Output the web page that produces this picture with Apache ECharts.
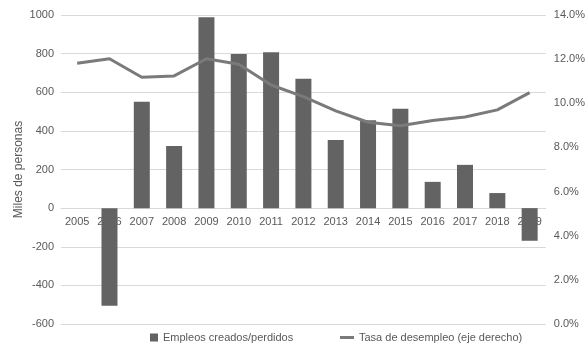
<!DOCTYPE html>
<html>
<head>
<meta charset="utf-8">
<script src="https://cdn.jsdelivr.net/npm/echarts@6/dist/echarts.min.js"></script>
<style>
  html, body { margin: 0; padding: 0; background: #fff; }
  #chart { width: 588px; height: 349px; }
</style>
</head>
<body>
<div id="chart"></div>
<script>
// datos
var years = ['2005','2006','2007','2008','2009','2010','2011','2012','2013','2014','2015','2016','2017','2018','2019'];
var empleos = [null, -505, 551, 322, 988, 798, 807, 670, 353, 455, 515, 136, 224, 78, -169];
var tasa = [11.81, 12.02, 11.18, 11.24, 12.02, 11.77, 10.83, 10.30, 9.66, 9.14, 8.98, 9.22, 9.38, 9.70, 10.48];

var txt = '#595959';
var font = 'Liberation Sans';
var gridTop = 15, gridBottom = 25, H = 349;
var yMin = -600, yMax = 1000;
// el eje de categorias va sobre el cero del eje izquierdo
var zeroOffset = -(H - gridTop - gridBottom) * (0 - yMin) / (yMax - yMin);

var chart = echarts.init(document.getElementById('chart'));
chart.setOption({
  animation: false,
  textStyle: { fontFamily: font },
  grid: { left: 61, right: 42, top: gridTop, bottom: gridBottom },
  legend: [
    {
      left: 145, bottom: 1, itemWidth: 8, itemHeight: 8, icon: 'rect',
      data: ['Empleos creados/perdidos'],
      textStyle: { color: txt, fontSize: 11, fontFamily: font }
    },
    {
      left: 335, bottom: 1, itemWidth: 14, itemHeight: 3, icon: 'rect',
      data: ['Tasa de desempleo (eje derecho)'],
      textStyle: { color: txt, fontSize: 11, fontFamily: font }
    }
  ],
  xAxis: {
    type: 'category',
    data: years,
    position: 'bottom',
    offset: zeroOffset,
    axisLine: { onZero: false, lineStyle: { color: '#d9d9d9' } },
    axisTick: { show: false },
    axisLabel: { color: txt, fontSize: 11, margin: 8 }
  },
  yAxis: [
    {
      type: 'value', min: yMin, max: yMax, interval: 200,
      name: 'Miles de personas', nameLocation: 'middle', nameGap: 36,
      nameMoveOverlap: false,
      nameTextStyle: { color: txt, fontSize: 12 },
      axisLine: { show: false }, axisTick: { show: false },
      axisLabel: { color: txt, fontSize: 11, margin: 7, formatter: function (v) { return String(v); } },
      splitLine: { lineStyle: { color: '#d9d9d9' } }
    },
    {
      type: 'value', min: 0, max: 14, interval: 2,
      axisLine: { show: false }, axisTick: { show: false },
      axisLabel: { color: txt, fontSize: 11, margin: 8, formatter: function (v) { return v.toFixed(1) + '%'; } },
      splitLine: { show: false }
    }
  ],
  series: [
    {
      name: 'Empleos creados/perdidos',
      type: 'bar', data: empleos, barWidth: 16,
      itemStyle: { color: '#636363' }
    },
    {
      name: 'Tasa de desempleo (eje derecho)',
      type: 'line', yAxisIndex: 1, data: tasa,
      showSymbol: false, symbol: 'none',
      lineStyle: { color: '#7a7a7a', width: 3 },
      itemStyle: { color: '#7a7a7a' }
    }
  ]
});
</script>
</body>
</html>
